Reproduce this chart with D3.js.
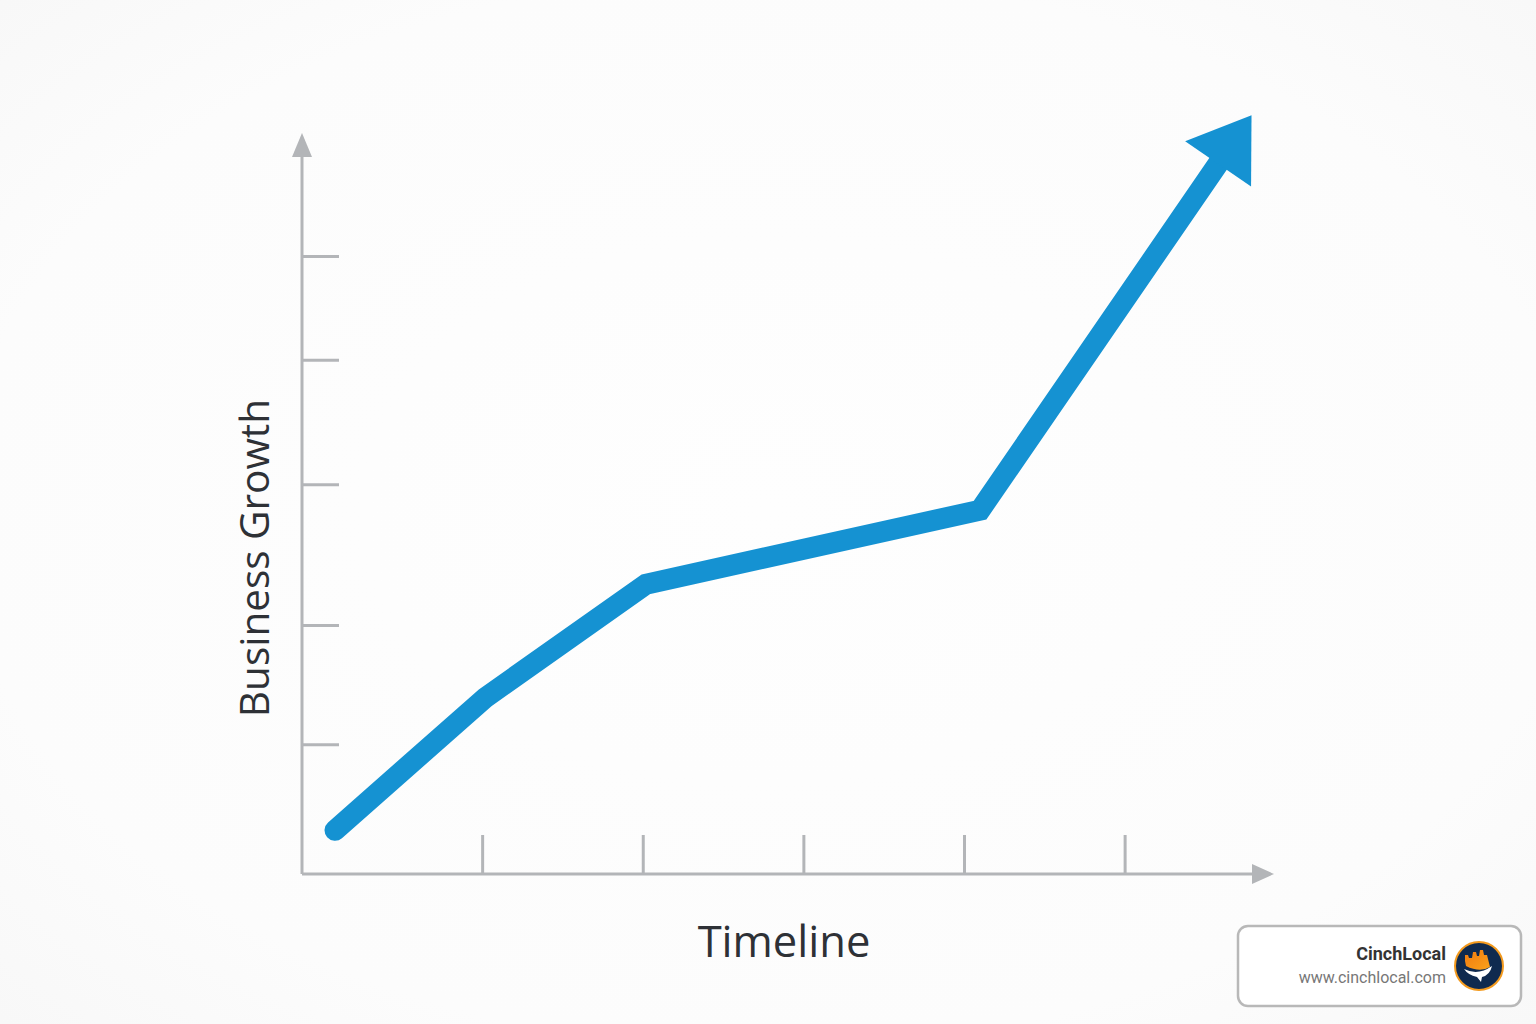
<!DOCTYPE html>
<html>
<head>
<meta charset="utf-8">
<script src="https://cdn.jsdelivr.net/npm/d3@7"></script>
<style>
  html, body { margin: 0; padding: 0; background: #fcfcfc; }
  svg { display: block; }
</style>
</head>
<body>
<svg id="chart" width="1536" height="1024"></svg>
<script>
// ---- data ----
const timelineTicks = [1, 2, 3, 4, 5];
const growthTicks = [17.5, 33.6, 52.6, 69.4, 83.4];
const timePoints = [0.084, 1.02, 2.02, 4.10, 5.79];
const growthValues = [5.9, 23.8, 39.1, 49.1, 102.4];
const xAxisTitle = "Timeline";
const yAxisTitle = "Business Growth";
const brandName = "CinchLocal";
const brandUrl = "www.cinchlocal.com";

const svg = d3.select("#chart");
const W = 1536, H = 1024;

// background with subtle vignette
const defs = svg.append("defs");
const rg = defs.append("radialGradient").attr("id", "bg").attr("cx", "50%").attr("cy", "50%").attr("r", "75%");
rg.append("stop").attr("offset", "0%").attr("stop-color", "#fefefe");
rg.append("stop").attr("offset", "70%").attr("stop-color", "#fcfcfc");
rg.append("stop").attr("offset", "100%").attr("stop-color", "#f7f7f7");
svg.append("rect").attr("width", W).attr("height", H).attr("fill", "url(#bg)");

const x = d3.scaleLinear().domain([-0.1215, 5.93]).range([302, 1274]);
const y = d3.scaleLinear().domain([0, 100]).range([874, 133]);

const axisColor = "#b3b5b8";
const g = svg.append("g");
const x0 = x(x.domain()[0]);

// y axis line + arrow
g.append("line").attr("x1", x0).attr("x2", x0)
  .attr("y1", y(0)).attr("y2", y(100) + 18)
  .attr("stroke", axisColor).attr("stroke-width", 3);
g.append("path")
  .attr("d", `M${x0},${y(100)} L${x0 - 10},${y(100) + 24} L${x0 + 10},${y(100) + 24} Z`)
  .attr("fill", axisColor);

// x axis line + arrow
g.append("line").attr("x1", x0).attr("x2", x(x.domain()[1]) - 18)
  .attr("y1", y(0)).attr("y2", y(0))
  .attr("stroke", axisColor).attr("stroke-width", 3);
g.append("path")
  .attr("d", `M${x(x.domain()[1])},${y(0)} L${x(x.domain()[1]) - 22},${y(0) - 10} L${x(x.domain()[1]) - 22},${y(0) + 10} Z`)
  .attr("fill", axisColor);

// ticks via d3 axes (tick lines only)
const xAxis = d3.axisTop(x).tickValues(timelineTicks).tickSize(39).tickFormat("");
const xg = g.append("g").attr("transform", `translate(0,${y(0)})`).call(xAxis);
xg.select(".domain").remove();
xg.selectAll(".tick line").attr("stroke", axisColor).attr("stroke-width", 3);

const yAxis = d3.axisRight(y).tickValues(growthTicks).tickSize(37).tickFormat("");
const yg = g.append("g").attr("transform", `translate(${x0},0)`).call(yAxis);
yg.select(".domain").remove();
yg.selectAll(".tick line").attr("stroke", axisColor).attr("stroke-width", 3);

// growth line
const pts = timePoints.map((t, i) => [x(t), y(growthValues[i])]);
const tip = pts[pts.length - 1];
const prev = pts[pts.length - 2];
const dx = tip[0] - prev[0], dy = tip[1] - prev[1];
const len = Math.hypot(dx, dy);
const ux = dx / len, uy = dy / len;
const headLen = 59, headHalf = 40;
const baseMid = [tip[0] - ux * headLen, tip[1] - uy * headLen];
const linePts = pts.slice(0, -1).concat([[tip[0] - ux * (headLen - 4), tip[1] - uy * (headLen - 4)]]);

const blue = "#1592d2";
g.append("path")
  .attr("d", d3.line()(linePts))
  .attr("fill", "none").attr("stroke", blue).attr("stroke-width", 21)
  .attr("stroke-linecap", "round").attr("stroke-linejoin", "miter");
g.append("path")
  .attr("d", `M${tip[0]},${tip[1]} L${baseMid[0] - uy * headHalf},${baseMid[1] + ux * headHalf} L${baseMid[0] + uy * headHalf},${baseMid[1] - ux * headHalf} Z`)
  .attr("fill", blue);

// axis titles
svg.append("text").attr("x", 784).attr("y", 957).attr("text-anchor", "middle")
  .attr("font-family", "Open Sans, sans-serif").attr("font-size", 43.5).attr("fill", "#2e3136")
  .text(xAxisTitle);
svg.append("text").attr("transform", "translate(269,558) rotate(-90)").attr("text-anchor", "middle")
  .attr("font-family", "Open Sans, sans-serif").attr("font-size", 40.5).attr("fill", "#2e3136")
  .text(yAxisTitle);

// brand box
const bb = svg.append("g");
bb.append("rect").attr("x", 1238).attr("y", 926).attr("width", 283).attr("height", 80).attr("rx", 10)
  .attr("fill", "#ffffff").attr("stroke", "#b8b8b8").attr("stroke-width", 2.5);
bb.append("text").attr("x", 1446).attr("y", 960).attr("text-anchor", "end")
  .attr("font-family", "Roboto, sans-serif").attr("font-weight", "bold").attr("font-size", 18).attr("fill", "#333")
  .text(brandName);
bb.append("text").attr("x", 1446).attr("y", 983).attr("text-anchor", "end")
  .attr("font-family", "Roboto, sans-serif").attr("font-size", 16).attr("fill", "#777")
  .text(brandUrl);
// logo
const lg = defs.append("linearGradient").attr("id", "og").attr("x1", "0").attr("y1", "0").attr("x2", "1").attr("y2", "1");
lg.append("stop").attr("offset", "0%").attr("stop-color", "#f07a10");
lg.append("stop").attr("offset", "100%").attr("stop-color", "#fba21a");
bb.append("circle").attr("cx", 1479).attr("cy", 966).attr("r", 24).attr("fill", "#0f2a4f")
  .attr("stroke", "#f39a1e").attr("stroke-width", 2);
bb.append("path")
  .attr("d", "M1465,961 L1465,955 L1468,955 L1469,958 L1472,958 L1473,952 L1476,952 L1477,956 L1479,956 L1480,950 L1483,950 L1484,955 L1487,955 L1489,963 L1490,967 Q1480,973 1466,966 Z")
  .attr("fill", "url(#og)");
bb.append("path")
  .attr("d", "M1464,969 Q1478,976 1492,966 Q1490,975 1482,977 L1481,982 L1477,977 Q1468,975 1464,969 Z")
  .attr("fill", "#ffffff");
</script>
</body>
</html>
